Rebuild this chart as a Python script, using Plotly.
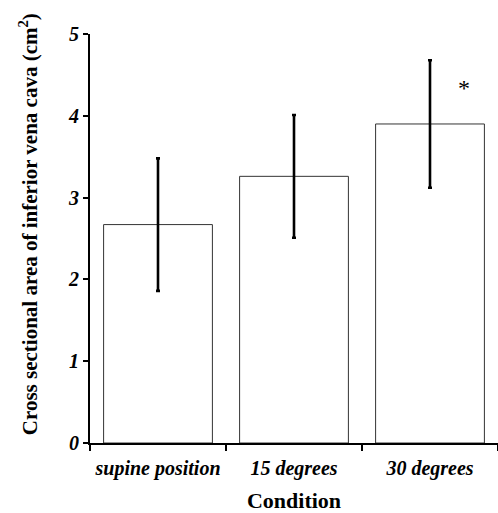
import plotly.graph_objects as go

categories = ["supine position", "15 degrees", "30 degrees"]
means = [2.67, 3.26, 3.90]
errors = [0.81, 0.75, 0.78]
y_ticks = [0, 1, 2, 3, 4, 5]
sig_marker = "*"
sig_index = 2
sig_y = 4.34
y_title = "<b>Cross sectional area of inferior vena cava (cm<sup>2</sup>)</b>"

fig = go.Figure()
fig.add_trace(go.Bar(
    x=categories, y=means,
    width=0.8,
    marker=dict(color="white", line=dict(color="#333333", width=1)),
    error_y=dict(type="data", array=errors, visible=True,
                 color="black", thickness=2.6, width=2),
    showlegend=False,
))

fig.add_annotation(x=sig_index + 0.25, y=sig_y, text=sig_marker, showarrow=False,
                   xref="x", yref="y",
                   font=dict(family="Liberation Serif", size=24, color="black"))

fig.add_annotation(x=-0.152, y=0.535, xref="paper", yref="paper", text=y_title,
                   textangle=-90, showarrow=False, xanchor="center", yanchor="middle",
                   font=dict(family="Liberation Serif", size=21, color="black"))

fig.update_layout(
    width=498, height=513,
    margin=dict(l=90, r=0, t=34, b=70, autoexpand=False),
    paper_bgcolor="white", plot_bgcolor="white",
    font=dict(family="Liberation Serif", color="black"),
    bargap=0.2,
)
fig.update_xaxes(
    range=[-0.5, 2.5], tickangle=0, automargin=False,
    showline=True, linecolor="black", linewidth=2,
    ticks="outside", tickson="boundaries", ticklen=6, tickwidth=2, tickcolor="black",
    ticklabelstandoff=6,
    tickfont=dict(family="Liberation Serif", size=20, color="black", weight="bold", style="italic"),
    title=dict(text="<b>Condition</b>", font=dict(family="Liberation Serif", size=22), standoff=20),
    showgrid=False, zeroline=False,
)
fig.update_yaxes(
    range=[0, 5], tickvals=y_ticks, automargin=False,
    showline=True, linecolor="black", linewidth=2,
    ticks="outside", ticklen=5, tickwidth=2, tickcolor="black",
    tickfont=dict(family="Liberation Serif", size=20, color="black", weight="bold", style="italic"),
    showgrid=False, zeroline=False,
)

fig.write_html("out.html")
